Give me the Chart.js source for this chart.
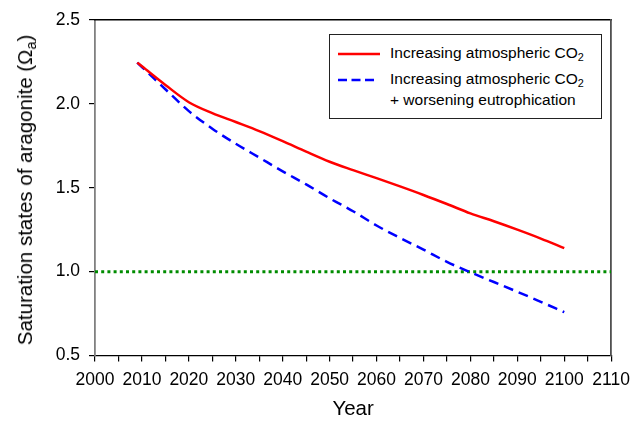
<!DOCTYPE html>
<html>
<head>
<meta charset="utf-8">
<script src="https://cdn.jsdelivr.net/npm/chart.js@4/dist/chart.umd.min.js"></script>
<style>
  html, body { margin: 0; padding: 0; background: #fff; }
  #wrap { position: relative; width: 638px; height: 422px; font-family: "Liberation Sans", Arial, sans-serif; color: #000; }
  #c { position: absolute; left: 0; top: 0; }
  #yTitle { position: absolute; left: 25px; top: 190px; transform: translate(-50%, -50%) rotate(-90deg); white-space: nowrap; font-size: 20.5px; }
  #yTitle sub, .leg sub { font-size: 0.7em; line-height: 0; vertical-align: -0.3em; }
  #legBox { position: absolute; left: 329px; top: 34px; width: 271px; height: 83px; border: 1px solid #222; background: #fff; }
  .leg { position: absolute; font-size: 15.5px; line-height: 15.5px; white-space: nowrap; }
  .sample { position: absolute; }
</style>
</head>
<body>
<div id="wrap">
  <canvas id="c" width="638" height="422"></canvas>
  <div id="yTitle">Saturation states of aragonite (Ω<sub>a</sub>)</div>
  <div id="legBox"></div>
  <svg class="sample" style="left:337px; top:50px" width="44" height="8"><line x1="1" y1="4" x2="43" y2="4" stroke="#ff0000" stroke-width="2.5"/></svg>
  <div class="leg" style="left:390px; top:45px">Increasing atmospheric CO<sub>2</sub></div>
  <svg class="sample" style="left:337px; top:76px" width="40" height="8"><line x1="1" y1="4" x2="39" y2="4" stroke="#0000ff" stroke-width="2.5" stroke-dasharray="9 4.5"/></svg>
  <div class="leg" style="left:390px; top:71px">Increasing atmospheric CO<sub>2</sub></div>
  <div class="leg" style="left:390px; top:92px">+ worsening eutrophication</div>
</div>
<script>
const years = [2009, 2010, 2015, 2020, 2025, 2030, 2035, 2040, 2045, 2050,
               2055, 2060, 2065, 2070, 2075, 2080, 2085, 2090, 2095, 2100];
const co2Only = [2.246, 2.224, 2.113, 2.01, 1.945, 1.892, 1.838, 1.778, 1.715, 1.655,
                 1.605, 1.557, 1.508, 1.457, 1.403, 1.347, 1.300, 1.250, 1.197, 1.14];
const co2Eutro = [2.246, 2.22, 2.087, 1.957, 1.852, 1.762, 1.68, 1.598, 1.52, 1.437,
                  1.36, 1.275, 1.201, 1.131, 1.058, 0.996, 0.938, 0.88, 0.82, 0.758];
const thresholdYears = [2000, 2110];
const thresholdValues = [1.0, 1.0];

const xTickYears = [2000, 2005, 2010, 2015, 2020, 2025, 2030, 2035, 2040, 2045, 2050, 2055,
                    2060, 2065, 2070, 2075, 2080, 2085, 2090, 2095, 2100, 2105, 2110];
const xLabelYears = [2000, 2010, 2020, 2030, 2040, 2050, 2060, 2070, 2080, 2090, 2100, 2110];
const yTickValues = [0.5, 1.0, 1.5, 2.0, 2.5];

const tickFont = {family: "'Liberation Sans', Arial, sans-serif", size: 17.5};

function toPoints(xs, ys) {
  return xs.map((x, i) => ({x, y: ys[i]}));
}

new Chart(document.getElementById("c"), {
  type: "line",
  data: {
    datasets: [
      {
        label: "Increasing atmospheric CO2",
        data: toPoints(years, co2Only),
        borderColor: "#ff0000",
        borderWidth: 2.5,
        pointRadius: 0,
        cubicInterpolationMode: "monotone"
      },
      {
        label: "Increasing atmospheric CO2 + worsening eutrophication",
        data: toPoints(years, co2Eutro),
        borderColor: "#0000ff",
        borderWidth: 2.5,
        borderDash: [10, 6],
        pointRadius: 0,
        cubicInterpolationMode: "monotone"
      },
      {
        label: "Saturation threshold",
        data: toPoints(thresholdYears, thresholdValues),
        borderColor: "#008c00",
        borderWidth: 3,
        borderDash: [3, 3.2],
        pointRadius: 0
      }
    ]
  },
  options: {
    responsive: false,
    animation: false,
    layout: {padding: {top: 20, right: 23, bottom: 0, left: 0}},
    plugins: {legend: {display: false}, tooltip: {enabled: false}},
    scales: {
      x: {
        type: "linear",
        position: "bottom",
        min: 2000,
        max: 2110,
        afterBuildTicks: s => { s.ticks = xTickYears.map(value => ({value})); },
        afterFit: s => { s.height = 66.5; },
        border: {color: "#000", width: 1.2},
        grid: {drawOnChartArea: false, drawTicks: true, tickLength: 6, color: "#000", lineWidth: 1.2},
        ticks: {
          autoSkip: false,
          maxRotation: 0,
          padding: 8,
          color: "#000",
          font: tickFont,
          callback: v => xLabelYears.includes(v) ? String(v) : ""
        },
        title: {
          display: true,
          text: "Year",
          color: "#000",
          font: {family: "'Liberation Sans', Arial, sans-serif", size: 20.5},
          padding: {top: 4, bottom: 0}
        }
      },
      y: {
        type: "linear",
        position: "left",
        min: 0.5,
        max: 2.5,
        afterBuildTicks: s => { s.ticks = yTickValues.map(value => ({value})); },
        afterFit: s => { s.width = 95; },
        border: {color: "#808080", width: 1.8},
        grid: {drawOnChartArea: false, drawTicks: true, tickLength: 6, color: "#000", lineWidth: 1.2},
        ticks: {
          padding: 9,
          color: "#000",
          font: tickFont,
          callback: v => v.toFixed(1)
        }
      },
      xTop: {
        axis: "x",
        type: "linear",
        position: "top",
        min: 2000,
        max: 2110,
        border: {color: "#000", width: 1.5},
        grid: {display: false, drawTicks: false},
        ticks: {display: false}
      },
      yRight: {
        axis: "y",
        type: "linear",
        position: "right",
        min: 0.5,
        max: 2.5,
        border: {color: "#505050", width: 1.8},
        grid: {display: false, drawTicks: false},
        ticks: {display: false}
      }
    }
  }
});
</script>
</body>
</html>
